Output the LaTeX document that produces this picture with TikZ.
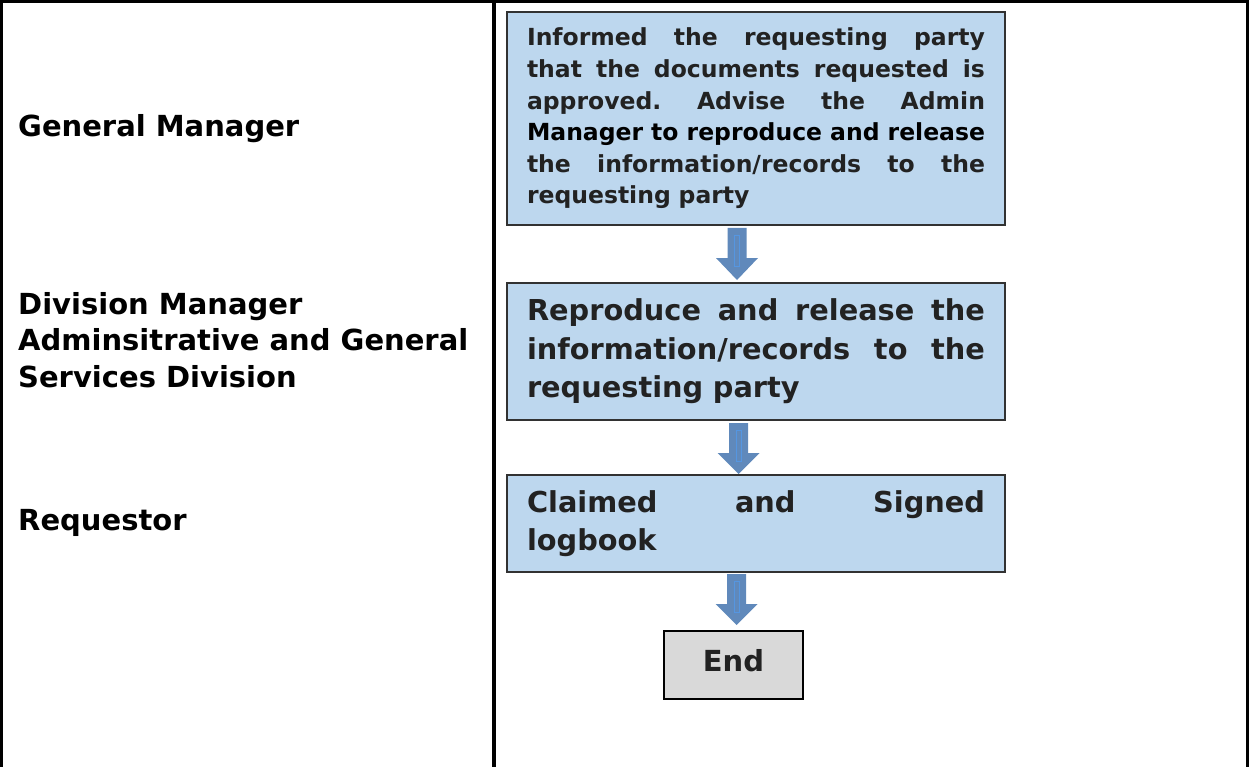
\documentclass[tikz,border=0pt]{standalone}
\usepackage{fontspec}
\setmainfont{DejaVu Sans}
\definecolor{boxfill}{RGB}{189,215,238}
\definecolor{boxline}{RGB}{50,50,50}
\definecolor{txt}{RGB}{34,34,34}
\definecolor{endfill}{RGB}{217,217,217}
\definecolor{arrowblue}{RGB}{96,137,187}
\definecolor{arrowhi}{RGB}{85,150,225}
\newcommand\jline[1]{{\frenchspacing\spaceskip=0.348em plus 1fil minus 0.1em\relax
  \xspaceskip=0.348em plus 1fil minus 0.1em\relax\hbox to 458pt{#1}}}
\newcommand\myflowarrow[3]{%
  \fill[arrowblue] ({#1-9.5},#2) -- ({#1+9.5},#2) -- ({#1+9.5},{#2+30}) -- ({#1+21},{#2+30})
    -- (#1,#3) -- ({#1-21},{#2+30}) -- ({#1-9.5},{#2+30}) -- cycle;
  \draw[arrowhi, line width=0.6pt] ({#1-2.5},{#2+7}) rectangle ({#1+2.5},{#2+38});
}
\begin{document}
\begin{tikzpicture}[x=1pt,y=-1pt]
\tikzset{
  lane/.style={line width=3pt, black},
  procbox/.style={draw=boxline, line width=1.3pt, fill=boxfill, text width=458pt,
    inner xsep=20pt, inner ysep=0pt, align=left, text=txt},
  endbox/.style={draw=black, line width=1.3pt, fill=endfill, minimum width=139pt,
    minimum height=68pt, inner sep=0pt, text=txt,
    font=\bfseries\fontsize{29pt}{34pt}\selectfont, text height=22pt, text depth=10pt},
  lanelabel/.style={inner sep=0pt, font=\bfseries\fontsize{29pt}{36.5pt}\selectfont,
    align=left, text=black},
}
\useasboundingbox (0,0) rectangle (1249,767);
\fill[white] (0,0) rectangle (1249,767);
% table lines
\draw[lane] (1.5,767) -- (1.5,1.5) -- (1247.5,1.5) -- (1247.5,767);
\draw[line width=3.5pt] (494,1.5) -- (494,767);
% lane labels
\node[lanelabel, anchor=base west] (gm) at (18,137) {General Manager};
\node[lanelabel, anchor=north west] (dm) at (18,292) {Division Manager\\Adminsitrative and General\\Services Division};
\node[lanelabel, anchor=base west] (rq) at (18,530) {Requestor};
% process boxes
\node[procbox, minimum height=213pt, font=\bfseries\fontsize{23.5pt}{31.6pt}\selectfont] (b1) at (756,118.5) {%
\jline{Informed the requesting party}
\jline{that the documents requested is}
\jline{approved. Advise the Admin}
\jline{\color{black}Manager to reproduce and release}
\jline{the information/records to the}
\hbox{requesting party}};
\node[procbox, minimum height=137pt, font=\bfseries\fontsize{28.8pt}{38.5pt}\selectfont] (b2) at (756,351.5) {%
\jline{Reproduce and release the}
\jline{information/records to the}
\hbox{requesting party}};
\node[procbox, minimum height=97pt, font=\bfseries\fontsize{28.8pt}{38pt}\selectfont] (b3) at (756,523.5) {%
\jline{Claimed and Signed}
\hbox{logbook}};
\node[endbox] (e) at (733.5,665) {End};
% block arrows
\myflowarrow{737}{228}{280}
\myflowarrow{738.5}{423}{474}
\myflowarrow{736.5}{574}{625}
\end{tikzpicture}
\end{document}
